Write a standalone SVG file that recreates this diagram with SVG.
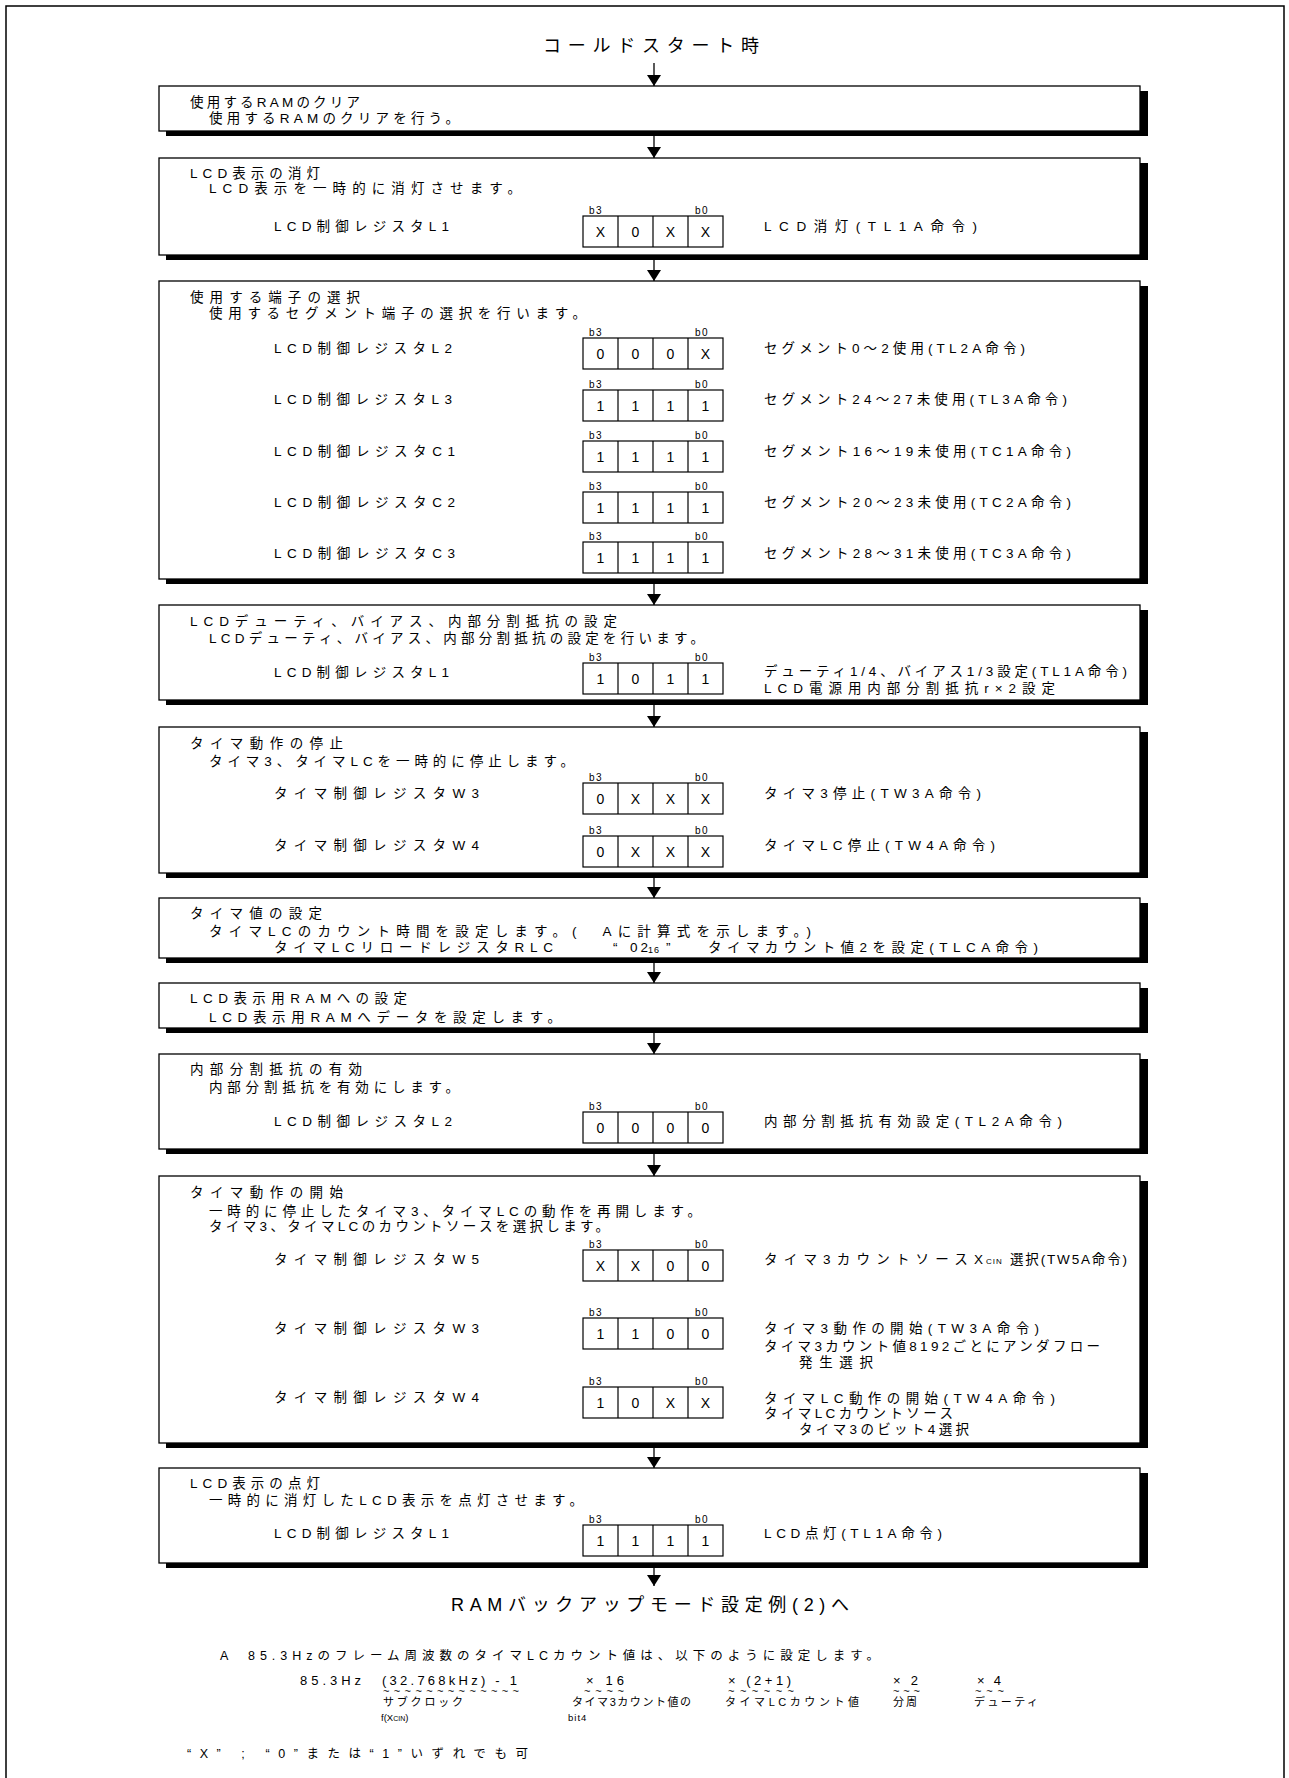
<svg xmlns="http://www.w3.org/2000/svg" xmlns:xlink="http://www.w3.org/1999/xlink" width="1289" height="1778" viewBox="0 0 1289 1778">
<style>
text{font-family:"Liberation Sans","Noto Sans CJK JP",sans-serif;fill:#000}
.t{font-size:13.5px}
.ttl{font-size:18px}
.b{font-size:14px;text-anchor:middle}
.bl{font-size:10px;letter-spacing:1.5px}
.f{font-size:12.5px}
.fm{font-size:13px}
.fs{font-size:11px}
.fx{font-size:9.5px}
.tl{font-size:11px}
.sub{font-size:8px;letter-spacing:1px}
.sub9{font-size:9px;letter-spacing:1px}
.box{fill:#fff;stroke:#000;stroke-width:1.3}
.sh{fill:#000}
.cell{fill:#fff;stroke:#000;stroke-width:1.2}
.con{stroke:#000;stroke-width:1.3;fill:none;marker-end:url(#ah)}
</style>
<defs>
<marker id="ah" viewBox="0 0 11 14" markerWidth="11" markerHeight="14" refX="11" refY="7" orient="auto" markerUnits="userSpaceOnUse"><path d="M0,0 L11,7 L0,14 z" fill="#000"/></marker>
<g id="cells"><rect class="cell" x="0" y="0" width="140" height="31"/><path d="M35,0v31M70,0v31M105,0v31" stroke="#000" stroke-width="1.2"/></g>
<g id="blab"><text class="bl" x="6" y="-2">b3</text><text class="bl" x="112" y="-2">b0</text></g>
</defs>
<rect width="1289" height="1778" fill="#fff"/>
<path d="M6,1778 V6 H1284 V1778" fill="none" stroke="#000" stroke-width="1.5"/>

<g id="start"><text class="ttl" x="543" y="52" textLength="216">コールドスタート時</text></g>

<g id="connectors">
<path class="con" d="M654,63 V86"/>
<path class="con" d="M654,131 V158"/>
<path class="con" d="M654,255 V281"/>
<path class="con" d="M654,579 V605"/>
<path class="con" d="M654,700 V727"/>
<path class="con" d="M654,873 V898"/>
<path class="con" d="M654,958 V983"/>
<path class="con" d="M654,1028 V1054"/>
<path class="con" d="M654,1149 V1176"/>
<path class="con" d="M654,1443 V1468"/>
<path class="con" d="M654,1563 V1586"/>
</g>

<g id="n1">
<rect class="sh" x="166" y="91" width="982" height="45"/>
<rect class="box" x="159" y="86" width="981" height="45"/>
<text class="t" x="190" y="107" textLength="170">使用するRAMのクリア</text>
<text class="t" x="209" y="123" textLength="250">使用するRAMのクリアを行う。</text>
</g>

<g id="n2">
<rect class="sh" x="166" y="163" width="982" height="97"/>
<rect class="box" x="159" y="158" width="981" height="97"/>
<text class="t" x="190" y="178" textLength="130">LCD表示の消灯</text>
<text class="t" x="209" y="193" textLength="312">LCD表示を一時的に消灯させます。</text>
<text class="t" x="274" y="231" textLength="175">LCD制御レジスタL1</text>
<use href="#cells" x="583" y="216"/><use href="#blab" x="583" y="216"/>
<text class="b" x="600.5" y="236.5">X</text><text class="b" x="635.5" y="236.5">0</text><text class="b" x="670.5" y="236.5">X</text><text class="b" x="705.5" y="236.5">X</text>
<text class="t" x="764" y="231" textLength="213">LCD消灯(TL1A命令)</text>
</g>

<g id="n3">
<rect class="sh" x="166" y="286" width="982" height="298"/>
<rect class="box" x="159" y="281" width="981" height="298"/>
<text class="t" x="190" y="302" textLength="170">使用する端子の選択</text>
<text class="t" x="209" y="318" textLength="377">使用するセグメント端子の選択を行います。</text>
<text class="t" x="274" y="353" textLength="178">LCD制御レジスタL2</text>
<use href="#cells" x="583" y="338"/><use href="#blab" x="583" y="338"/>
<text class="b" x="600.5" y="358.5">0</text><text class="b" x="635.5" y="358.5">0</text><text class="b" x="670.5" y="358.5">0</text><text class="b" x="705.5" y="358.5">X</text>
<text class="t" x="764" y="353" textLength="261">セグメント0～2使用(TL2A命令)</text>
<text class="t" x="274" y="404" textLength="178">LCD制御レジスタL3</text>
<use href="#cells" x="583" y="390"/><use href="#blab" x="583" y="390"/>
<text class="b" x="600.5" y="410.5">1</text><text class="b" x="635.5" y="410.5">1</text><text class="b" x="670.5" y="410.5">1</text><text class="b" x="705.5" y="410.5">1</text>
<text class="t" x="764" y="404" textLength="303">セグメント24～27未使用(TL3A命令)</text>
<text class="t" x="274" y="456" textLength="181">LCD制御レジスタC1</text>
<use href="#cells" x="583" y="441"/><use href="#blab" x="583" y="441"/>
<text class="b" x="600.5" y="461.5">1</text><text class="b" x="635.5" y="461.5">1</text><text class="b" x="670.5" y="461.5">1</text><text class="b" x="705.5" y="461.5">1</text>
<text class="t" x="764" y="456" textLength="307">セグメント16～19未使用(TC1A命令)</text>
<text class="t" x="274" y="507" textLength="181">LCD制御レジスタC2</text>
<use href="#cells" x="583" y="492"/><use href="#blab" x="583" y="492"/>
<text class="b" x="600.5" y="512.5">1</text><text class="b" x="635.5" y="512.5">1</text><text class="b" x="670.5" y="512.5">1</text><text class="b" x="705.5" y="512.5">1</text>
<text class="t" x="764" y="507" textLength="307">セグメント20～23未使用(TC2A命令)</text>
<text class="t" x="274" y="558" textLength="181">LCD制御レジスタC3</text>
<use href="#cells" x="583" y="542"/><use href="#blab" x="583" y="542"/>
<text class="b" x="600.5" y="562.5">1</text><text class="b" x="635.5" y="562.5">1</text><text class="b" x="670.5" y="562.5">1</text><text class="b" x="705.5" y="562.5">1</text>
<text class="t" x="764" y="558" textLength="307">セグメント28～31未使用(TC3A命令)</text>
</g>

<g id="n4">
<rect class="sh" x="166" y="610" width="982" height="95"/>
<rect class="box" x="159" y="605" width="981" height="95"/>
<text class="t" x="190" y="626" textLength="427">LCDデューティ、バイアス、内部分割抵抗の設定</text>
<text class="t" x="209" y="643" textLength="495">LCDデューティ、バイアス、内部分割抵抗の設定を行います。</text>
<text class="t" x="274" y="677" textLength="175">LCD制御レジスタL1</text>
<use href="#cells" x="583" y="663"/><use href="#blab" x="583" y="663"/>
<text class="b" x="600.5" y="683.5">1</text><text class="b" x="635.5" y="683.5">0</text><text class="b" x="670.5" y="683.5">1</text><text class="b" x="705.5" y="683.5">1</text>
<text class="t" x="764" y="676" textLength="363">デューティ1/4、バイアス1/3設定(TL1A命令)</text>
<text class="t" x="764" y="693" textLength="291">LCD電源用内部分割抵抗r×2設定</text>
</g>

<g id="n5">
<rect class="sh" x="166" y="732" width="982" height="146"/>
<rect class="box" x="159" y="727" width="981" height="146"/>
<text class="t" x="190" y="748" textLength="153">タイマ動作の停止</text>
<text class="t" x="209" y="766" textLength="365">タイマ3、タイマLCを一時的に停止します。</text>
<text class="t" x="274" y="798" textLength="205">タイマ制御レジスタW3</text>
<use href="#cells" x="583" y="783"/><use href="#blab" x="583" y="783"/>
<text class="b" x="600.5" y="803.5">0</text><text class="b" x="635.5" y="803.5">X</text><text class="b" x="670.5" y="803.5">X</text><text class="b" x="705.5" y="803.5">X</text>
<text class="t" x="764" y="798" textLength="217">タイマ3停止(TW3A命令)</text>
<text class="t" x="274" y="850" textLength="205">タイマ制御レジスタW4</text>
<use href="#cells" x="583" y="836"/><use href="#blab" x="583" y="836"/>
<text class="b" x="600.5" y="856.5">0</text><text class="b" x="635.5" y="856.5">X</text><text class="b" x="670.5" y="856.5">X</text><text class="b" x="705.5" y="856.5">X</text>
<text class="t" x="764" y="850" textLength="231">タイマLC停止(TW4A命令)</text>
</g>

<g id="n6">
<rect class="sh" x="166" y="903" width="982" height="60"/>
<rect class="box" x="159" y="898" width="981" height="60"/>
<text class="t" x="190" y="918" textLength="132">タイマ値の設定</text>
<text class="t" x="209" y="936" textLength="602">タイマLCのカウント時間を設定します。(　Aに計算式を示します。)</text>
<text class="t" x="274" y="952" textLength="279">タイマLCリロードレジスタRLC</text>
<text class="t" x="613" y="952">“</text>
<text class="t" x="630" y="952" letter-spacing="3">02</text>
<text class="sub9" x="648" y="953">16</text>
<text class="t" x="666" y="952">”</text>
<text class="t" x="708" y="952" textLength="330">タイマカウント値2を設定(TLCA命令)</text>
</g>

<g id="n7">
<rect class="sh" x="166" y="988" width="982" height="45"/>
<rect class="box" x="159" y="983" width="981" height="45"/>
<text class="t" x="190" y="1003" textLength="217">LCD表示用RAMへの設定</text>
<text class="t" x="209" y="1022" textLength="352">LCD表示用RAMへデータを設定します。</text>
</g>

<g id="n8">
<rect class="sh" x="166" y="1059" width="982" height="95"/>
<rect class="box" x="159" y="1054" width="981" height="95"/>
<text class="t" x="190" y="1074" textLength="172">内部分割抵抗の有効</text>
<text class="t" x="209" y="1092" textLength="250">内部分割抵抗を有効にします。</text>
<text class="t" x="274" y="1126" textLength="178">LCD制御レジスタL2</text>
<use href="#cells" x="583" y="1112"/><use href="#blab" x="583" y="1112"/>
<text class="b" x="600.5" y="1132.5">0</text><text class="b" x="635.5" y="1132.5">0</text><text class="b" x="670.5" y="1132.5">0</text><text class="b" x="705.5" y="1132.5">0</text>
<text class="t" x="764" y="1126" textLength="298">内部分割抵抗有効設定(TL2A命令)</text>
</g>

<g id="n9">
<rect class="sh" x="166" y="1181" width="982" height="267"/>
<rect class="box" x="159" y="1176" width="981" height="267"/>
<text class="t" x="190" y="1197" textLength="153">タイマ動作の開始</text>
<text class="t" x="209" y="1216" textLength="492">一時的に停止したタイマ3、タイマLCの動作を再開します。</text>
<text class="t" x="209" y="1231" textLength="400">タイマ3、タイマLCのカウントソースを選択します。</text>
<text class="t" x="274" y="1264" textLength="205">タイマ制御レジスタW5</text>
<use href="#cells" x="583" y="1250"/><use href="#blab" x="583" y="1250"/>
<text class="b" x="600.5" y="1270.5">X</text><text class="b" x="635.5" y="1270.5">X</text><text class="b" x="670.5" y="1270.5">0</text><text class="b" x="705.5" y="1270.5">0</text>
<text class="t" x="764" y="1264" textLength="219">タイマ3カウントソースX</text>
<text class="sub" x="986" y="1264">CIN</text>
<text class="t" x="1010" y="1264" textLength="117">選択(TW5A命令)</text>
<text class="t" x="274" y="1333" textLength="205">タイマ制御レジスタW3</text>
<use href="#cells" x="583" y="1318"/><use href="#blab" x="583" y="1318"/>
<text class="b" x="600.5" y="1338.5">1</text><text class="b" x="635.5" y="1338.5">1</text><text class="b" x="670.5" y="1338.5">0</text><text class="b" x="705.5" y="1338.5">0</text>
<text class="t" x="764" y="1333" textLength="275">タイマ3動作の開始(TW3A命令)</text>
<text class="t" x="764" y="1351" textLength="336">タイマ3カウント値8192ごとにアンダフロー</text>
<text class="t" x="799" y="1367" textLength="74">発生選択</text>
<text class="t" x="274" y="1402" textLength="205">タイマ制御レジスタW4</text>
<use href="#cells" x="583" y="1387"/><use href="#blab" x="583" y="1387"/>
<text class="b" x="600.5" y="1407.5">1</text><text class="b" x="635.5" y="1407.5">0</text><text class="b" x="670.5" y="1407.5">X</text><text class="b" x="705.5" y="1407.5">X</text>
<text class="t" x="764" y="1403" textLength="291">タイマLC動作の開始(TW4A命令)</text>
<text class="t" x="764" y="1418" textLength="189">タイマLCカウントソース</text>
<text class="t" x="799" y="1434" textLength="170">タイマ3のビット4選択</text>
</g>

<g id="n10">
<rect class="sh" x="166" y="1473" width="982" height="95"/>
<rect class="box" x="159" y="1468" width="981" height="95"/>
<text class="t" x="190" y="1488" textLength="130">LCD表示の点灯</text>
<text class="t" x="209" y="1505" textLength="374">一時的に消灯したLCD表示を点灯させます。</text>
<text class="t" x="274" y="1538" textLength="175">LCD制御レジスタL1</text>
<use href="#cells" x="583" y="1525"/><use href="#blab" x="583" y="1525"/>
<text class="b" x="600.5" y="1545.5">1</text><text class="b" x="635.5" y="1545.5">1</text><text class="b" x="670.5" y="1545.5">1</text><text class="b" x="705.5" y="1545.5">1</text>
<text class="t" x="764" y="1538" textLength="178">LCD点灯(TL1A命令)</text>
</g>

<g id="end"><text class="ttl" x="451" y="1611" textLength="398">RAMバックアップモード設定例(2)へ</text></g>

<g id="note">
<text class="f" x="220" y="1660">A</text>
<text class="f" x="248" y="1660" textLength="631">85.3Hzのフレーム周波数のタイマLCカウント値は、以下のように設定します。</text>
<text class="fm" x="300" y="1685" textLength="61">85.3Hz</text>
<text class="fm" x="382" y="1685" textLength="135">(32.768kHz) - 1</text>
<text class="tl" x="383" y="1695" textLength="136">~~~~~~~~~~~~~</text>
<text class="fs" x="383" y="1706" textLength="80">サブクロック</text>
<text class="fx" x="381" y="1721">f(X<tspan font-size="7">CIN</tspan>)</text>
<text class="fm" x="586" y="1685" textLength="38">× 16</text>
<text class="tl" x="584" y="1695" textLength="40">~~~~</text>
<text class="fs" x="572" y="1706" textLength="119">タイマ3カウント値の</text>
<text class="fx" x="568" y="1721" letter-spacing="1">bit4</text>
<text class="fm" x="728" y="1685" textLength="63">× (2+1)</text>
<text class="tl" x="728" y="1695" textLength="66">~~~~~~</text>
<text class="fs" x="725" y="1706" textLength="134">タイマLCカウント値</text>
<text class="fm" x="893" y="1685" textLength="25">× 2</text>
<text class="tl" x="893" y="1695" textLength="27">~~~</text>
<text class="fs" x="893" y="1706" textLength="24">分周</text>
<text class="fm" x="977" y="1685" textLength="24">× 4</text>
<text class="tl" x="975" y="1695" textLength="29">~~~</text>
<text class="fs" x="974" y="1706" textLength="64">デューティ</text>
<text class="f" x="187" y="1758" textLength="341">“X” ; “0”または“1”いずれでも可</text>
</g>
</svg>
